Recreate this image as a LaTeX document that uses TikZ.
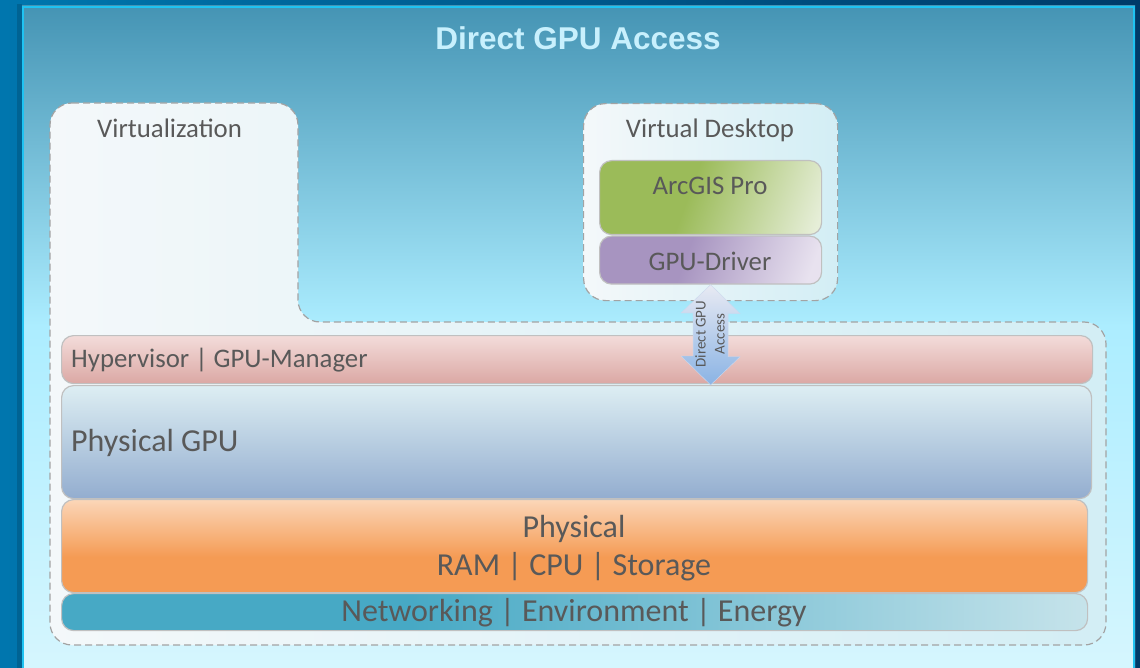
\documentclass[tikz,border=0pt]{standalone}
\usepackage{fontspec}
\setmainfont{Carlito}
\newfontfamily\headfont{Liberation Sans}
\usetikzlibrary{calc}

% palette
\definecolor{txt}{HTML}{595959}
\definecolor{bgL}{HTML}{0076AE}
\definecolor{bgR}{HTML}{003B69}
\definecolor{rim}{HTML}{1FC3F2}
\definecolor{skyT}{HTML}{4594B4}
\definecolor{skyM}{HTML}{ACEDFF}
\definecolor{skyB}{HTML}{D6F6FE}
\definecolor{dashgray}{HTML}{A3A3A3}
\definecolor{edge}{HTML}{C0C0C0}
\definecolor{hypT}{HTML}{F3DCDA}
\definecolor{hypB}{HTML}{DBA8A4}
\definecolor{gpuT}{HTML}{DDEEF3}
\definecolor{gpuB}{HTML}{93ADCF}
\definecolor{orT}{HTML}{FBD6B8}
\definecolor{orB}{HTML}{F59B54}
\definecolor{netL}{HTML}{47A9C5}
\definecolor{netR}{HTML}{D9ECF0}
\definecolor{grL}{HTML}{9BBB59}
\definecolor{grR}{HTML}{E6EED8}
\definecolor{puL}{HTML}{A794C0}
\definecolor{puR}{HTML}{E8E2EF}
\definecolor{boxL}{HTML}{F4F8FA}
\definecolor{boxR}{HTML}{D3EEF5}
\definecolor{arT}{HTML}{E8EAF3}
\definecolor{arB}{HTML}{8AB3E4}
\definecolor{headc}{HTML}{C8F0FD}

% gradients
\pgfdeclareverticalshading{skyfade}{100bp}{color(0bp)=(skyB); color(25bp)=(skyB); color(51bp)=(skyM); color(75bp)=(skyT); color(100bp)=(skyT)}
\pgfdeclareverticalshading{orangefade}{100bp}{color(0bp)=(orB); color(44bp)=(orB); color(75bp)=(orT); color(100bp)=(orT)}
\pgfdeclarehorizontalshading{netfade}{100bp}{color(0bp)=(netL); color(42bp)=(netL); color(80bp)=(netR); color(100bp)=(netR)}
\pgfdeclarehorizontalshading{greenfade}{100bp}{color(0bp)=(grL); color(44bp)=(grL); color(80bp)=(grR); color(100bp)=(grR)}
\pgfdeclarehorizontalshading{purplefade}{100bp}{color(0bp)=(puL); color(43bp)=(puL); color(78bp)=(puR); color(100bp)=(puR)}

\tikzset{
  bar/.style={draw=edge, line width=1.2pt, rounded corners=12pt, inner sep=0pt, anchor=north west},
  dashbox/.style={draw=dashgray, line width=1.2pt, dash pattern=on 7pt off 4pt, rounded corners=22pt},
  lbl/.style={text=txt, inner sep=0pt, font=\fontsize{26.8}{30}\selectfont},
  biglbl/.style={text=txt, inner sep=0pt, font=\fontsize{32}{36}\selectfont},
  arrowbody/.style={top color=arT, bottom color=arB, draw=arT!70!arB, line width=0.4pt},
}

\begin{document}
\begin{tikzpicture}[x=1pt, y=-1pt]
\useasboundingbox (0,0) rectangle (1140,668);

% frame and panel
\shade[left color=bgL, right color=bgR] (0,0) rectangle (1140,668);
\fill[black, opacity=0.15] (17,4) rectangle (22,668);
\shade[shading=skyfade] (22,6) rectangle (1135,672);
\draw[rim, line width=2.5pt] (23,672) -- (23,7) -- (1134,7) -- (1134,672);

\node[font=\headfont\bfseries\fontsize{31.5}{36}\selectfont, text=headc, anchor=base, inner sep=0pt] (head) at (578,50) {Direct GPU Access};

% virtualization container
\path[dashbox, left color=boxL, right color=boxR]
  (50,103) -- (298,103) -- (298,322) -- (1106,322) -- (1106,645) -- (50,645) -- cycle;

% virtual desktop
\node[dashbox, anchor=north west, inner sep=0pt, minimum width=254pt, minimum height=197pt,
      left color=boxL, right color=boxR] (vd) at (583,103) {};
\node[bar, shade, shading=greenfade, shading angle=-20, minimum width=222pt, minimum height=74pt] (arc) at (599,160) {};
\node[bar, shade, shading=purplefade, shading angle=-20, minimum width=222pt, minimum height=48pt] (drv) at (599,235.5) {};

% host layers
\node[bar, top color=hypT, bottom color=hypB, minimum width=1031pt, minimum height=48pt] (hyp) at (61,335) {};
\node[bar, top color=gpuT, bottom color=gpuB, minimum width=1030pt, minimum height=113pt] (gpu) at (61,385) {};
\node[bar, shade, shading=orangefade, minimum width=1026pt, minimum height=93pt] (phy) at (61,499) {};
\node[bar, shade, shading=netfade, minimum width=1026pt, minimum height=37pt] (net) at (61,593) {};

% direct access arrow between driver and hypervisor
\coordinate (dn) at (drv.south |- gpu.north);
\draw[arrowbody] (drv.south) -- ++(29.5,29) -- ++(-12,0) -- ++(0,43) -- ++(12,0) -- (dn)
  -- ++(-29.5,-29) -- ++(12,0) -- ++(0,-43) -- ++(-12,0) -- cycle;
\node[rotate=90, align=center, text=txt, inner sep=0pt, font=\fontsize{15}{19}\selectfont] (arrtxt) at (710,334) {Direct GPU\\Access};

% labels
\node[lbl, anchor=base west] (virt) at (97,137.5) {Virtualization};
\node[lbl, anchor=base] (vdt) at (710,137.5) {Virtual Desktop};
\node[lbl, anchor=base] (arct) at (710,194.5) {ArcGIS Pro};
\node[lbl, anchor=base] (drvt) at (710,270.5) {GPU-Driver};
\node[lbl, anchor=base west] (hypt) at (71,367) {Hypervisor | GPU-Manager};
\node[biglbl, anchor=base west] (gput) at (71,451) {Physical GPU};
\node[biglbl, anchor=base] (phyt) at (574,537) {Physical};
\node[biglbl, anchor=base] (ramt) at (574,575) {RAM | CPU | Storage};
\node[biglbl, anchor=base] (nett) at (574,621.5) {Networking | Environment | Energy};
\end{tikzpicture}
\end{document}
